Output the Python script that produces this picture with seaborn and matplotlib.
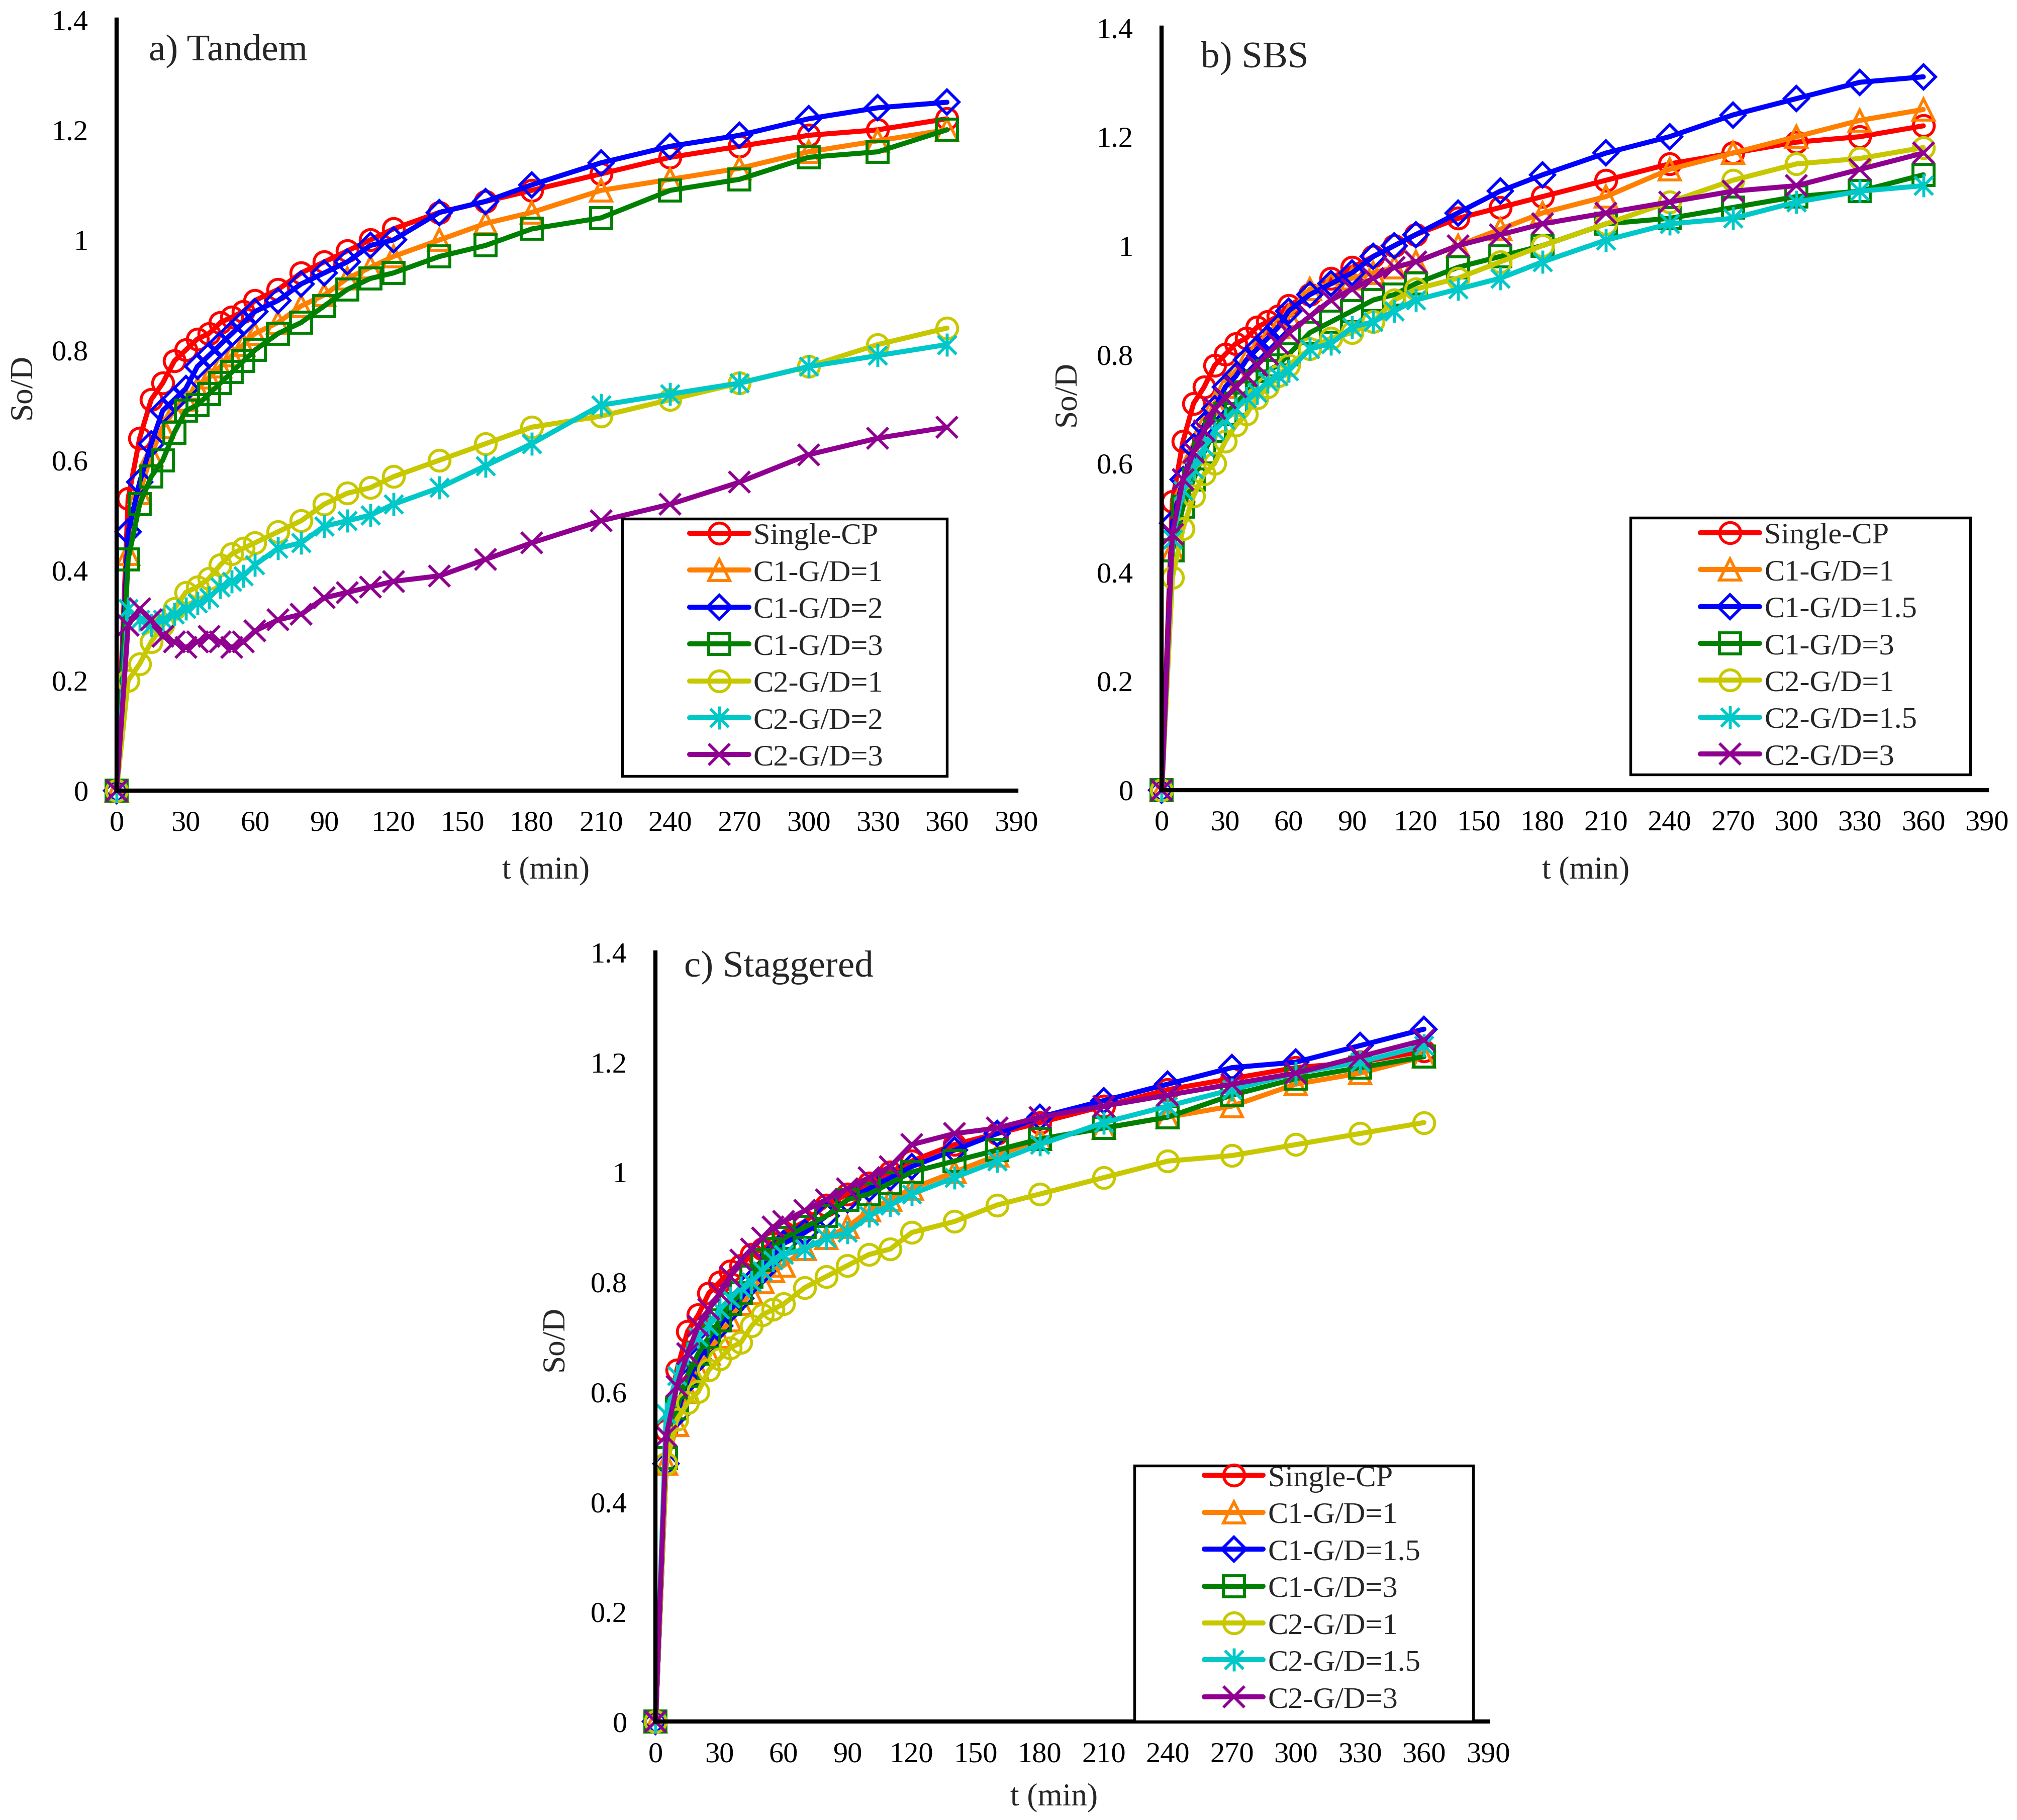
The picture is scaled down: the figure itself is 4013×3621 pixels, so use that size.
import pandas as pd
import seaborn as sns
import matplotlib.pyplot as plt
from matplotlib.path import Path
from matplotlib.patches import Rectangle

# time points (min)
t = [0, 5, 10, 15, 20, 25, 30, 35, 40, 45, 50, 55, 60, 70, 80, 90, 100,
     110, 120, 140, 160, 180, 210, 240, 270, 300, 330, 360]

single_cp = [0, 0.53, 0.64, 0.71, 0.74, 0.78, 0.80, 0.82, 0.83, 0.85, 0.86, 0.87, 0.89, 0.91,
             0.94, 0.96, 0.98, 1.00, 1.02, 1.05, 1.07, 1.09, 1.12, 1.15, 1.17, 1.19, 1.20, 1.22]

# a) Tandem
a_c1_gd1 = [0, 0.43, 0.54, 0.61, 0.66, 0.69, 0.71, 0.73, 0.75, 0.77, 0.79, 0.81, 0.83, 0.85,
            0.88, 0.90, 0.93, 0.95, 0.97, 1.00, 1.03, 1.05, 1.09, 1.11, 1.13, 1.16, 1.18, 1.20]
a_c1_gd2 = [0, 0.47, 0.56, 0.63, 0.69, 0.71, 0.73, 0.77, 0.79, 0.81, 0.83, 0.85, 0.87, 0.89,
            0.92, 0.94, 0.96, 0.99, 1.00, 1.05, 1.07, 1.10, 1.14, 1.17, 1.19, 1.22, 1.24, 1.25]
a_c1_gd3 = [0, 0.42, 0.52, 0.57, 0.60, 0.65, 0.69, 0.70, 0.72, 0.74, 0.76, 0.78, 0.80, 0.83,
            0.85, 0.88, 0.91, 0.93, 0.94, 0.97, 0.99, 1.02, 1.04, 1.09, 1.11, 1.15, 1.16, 1.20]
a_c2_gd1 = [0, 0.20, 0.23, 0.27, 0.30, 0.33, 0.36, 0.37, 0.385, 0.41, 0.43, 0.44, 0.45, 0.47,
            0.49, 0.52, 0.54, 0.55, 0.57, 0.60, 0.63, 0.66, 0.68, 0.71, 0.74, 0.77, 0.81, 0.84]
a_c2_gd2 = [0, 0.33, 0.31, 0.30, 0.31, 0.32, 0.33, 0.34, 0.35, 0.37, 0.38, 0.39, 0.41, 0.44,
            0.45, 0.48, 0.49, 0.50, 0.52, 0.55, 0.59, 0.63, 0.70, 0.72, 0.74, 0.77, 0.79, 0.81]
a_c2_gd3 = [0, 0.30, 0.33, 0.31, 0.28, 0.27, 0.26, 0.27, 0.28, 0.27, 0.26, 0.27, 0.29, 0.31,
            0.32, 0.35, 0.36, 0.37, 0.38, 0.39, 0.42, 0.45, 0.49, 0.52, 0.56, 0.61, 0.64, 0.66]

# b) SBS
b_c1_gd1 = [0, 0.44, 0.55, 0.62, 0.67, 0.71, 0.74, 0.77, 0.79, 0.81, 0.83, 0.85, 0.87, 0.92,
            0.93, 0.94, 0.95, 0.96, 0.97, 1.00, 1.03, 1.06, 1.09, 1.14, 1.17, 1.20, 1.23, 1.25]
b_c1_gd15 = [0, 0.49, 0.57, 0.63, 0.67, 0.70, 0.74, 0.76, 0.79, 0.81, 0.83, 0.85, 0.88, 0.91,
             0.93, 0.95, 0.98, 1.00, 1.02, 1.06, 1.10, 1.13, 1.17, 1.20, 1.24, 1.27, 1.30, 1.31]
b_c1_gd3 = [0, 0.44, 0.52, 0.57, 0.62, 0.66, 0.69, 0.71, 0.73, 0.75, 0.77, 0.78, 0.80, 0.84,
            0.86, 0.88, 0.90, 0.91, 0.93, 0.96, 0.98, 1.00, 1.04, 1.05, 1.07, 1.09, 1.10, 1.13]
b_c2_gd1 = [0, 0.39, 0.48, 0.54, 0.58, 0.60, 0.64, 0.67, 0.69, 0.72, 0.74, 0.76, 0.78, 0.81,
            0.83, 0.84, 0.86, 0.90, 0.92, 0.94, 0.97, 1.00, 1.04, 1.08, 1.12, 1.15, 1.16, 1.18]
b_c2_gd15 = [0, 0.46, 0.55, 0.59, 0.63, 0.66, 0.68, 0.70, 0.72, 0.73, 0.75, 0.76, 0.77, 0.81,
             0.82, 0.85, 0.86, 0.88, 0.90, 0.92, 0.94, 0.97, 1.01, 1.04, 1.05, 1.08, 1.10, 1.11]
b_c2_gd3 = [0, 0.47, 0.57, 0.62, 0.66, 0.70, 0.72, 0.74, 0.76, 0.78, 0.80, 0.82, 0.84, 0.87,
            0.90, 0.92, 0.94, 0.96, 0.97, 1.00, 1.02, 1.04, 1.06, 1.08, 1.10, 1.11, 1.14, 1.17]

# c) Staggered
c_c1_gd1 = [0, 0.47, 0.54, 0.60, 0.64, 0.67, 0.70, 0.73, 0.76, 0.78, 0.80, 0.82, 0.83, 0.86,
            0.88, 0.90, 0.93, 0.95, 0.97, 1.00, 1.03, 1.06, 1.08, 1.10, 1.12, 1.16, 1.18, 1.21]
c_c1_gd15 = [0, 0.47, 0.56, 0.62, 0.66, 0.69, 0.72, 0.75, 0.77, 0.80, 0.82, 0.85, 0.87, 0.89,
             0.92, 0.95, 0.97, 0.99, 1.01, 1.04, 1.07, 1.10, 1.13, 1.16, 1.19, 1.20, 1.23, 1.26]
c_c1_gd3 = [0, 0.48, 0.57, 0.63, 0.67, 0.70, 0.73, 0.76, 0.78, 0.81, 0.84, 0.86, 0.88, 0.90,
            0.92, 0.95, 0.96, 0.98, 1.00, 1.02, 1.04, 1.06, 1.08, 1.10, 1.14, 1.17, 1.19, 1.21]
c_c2_gd1 = [0, 0.47, 0.55, 0.58, 0.60, 0.64, 0.66, 0.68, 0.69, 0.72, 0.74, 0.75, 0.76, 0.79,
            0.81, 0.83, 0.85, 0.86, 0.89, 0.91, 0.94, 0.96, 0.99, 1.02, 1.03, 1.05, 1.07, 1.09]
c_c2_gd15 = [0, 0.56, 0.63, 0.67, 0.70, 0.72, 0.75, 0.77, 0.79, 0.80, 0.82, 0.84, 0.85, 0.86,
             0.88, 0.89, 0.92, 0.94, 0.96, 0.99, 1.02, 1.05, 1.09, 1.12, 1.15, 1.18, 1.20, 1.23]
c_c2_gd3 = [0, 0.52, 0.61, 0.67, 0.72, 0.75, 0.78, 0.81, 0.84, 0.86, 0.88, 0.90, 0.91, 0.93,
            0.95, 0.97, 0.99, 1.01, 1.05, 1.07, 1.08, 1.10, 1.12, 1.14, 1.16, 1.18, 1.21, 1.24]

labels_a = ["Single-CP", "C1-G/D=1", "C1-G/D=2", "C1-G/D=3", "C2-G/D=1", "C2-G/D=2", "C2-G/D=3"]
labels_bc = ["Single-CP", "C1-G/D=1", "C1-G/D=1.5", "C1-G/D=3", "C2-G/D=1", "C2-G/D=1.5", "C2-G/D=3"]

colors = ["#FF0000", "#FF8000", "#0000FF", "#008000", "#C8C800", "#00C8C8", "#900090"]

# excel-like asterisk marker
asterisk = Path([(0, -1), (0, 1), (-0.8, -0.8), (0.8, 0.8), (-0.8, 0.8), (0.8, -0.8)],
                [Path.MOVETO, Path.LINETO] * 3)
markers = ["o", "^", "D", "s", "o", asterisk, "x"]
msizes = [10, 10, 8, 10, 10, 11, 10]

sns.set_style("white")
plt.rcParams["font.family"] = ["Liberation Serif", "DejaVu Serif"]
plt.rcParams["font.size"] = 14

fig = plt.figure(figsize=(4013 / 300, 3621 / 300), dpi=300)


def panel(rect, series, labels, title, title_xy, box, leg_xy, ylab_xy, xlab_xy):
    ax = fig.add_axes(rect)
    for i, (y, lab) in enumerate(zip(series, labels)):
        df = pd.DataFrame({"t": t, "v": y})
        sns.lineplot(data=df, x="t", y="v", ax=ax, color=colors[i], label=lab,
                     estimator=None, sort=False, lw=2.4, marker=markers[i],
                     ms=msizes[i], mfc="none", mec=colors[i], mew=1.4, clip_on=False)
    ax.set_xlim(0, 390)
    ax.set_ylim(0, 1.4)
    ax.set_xticks(range(0, 391, 30))
    ax.set_yticks([0, 0.2, 0.4, 0.6, 0.8, 1.0, 1.2, 1.4])
    ax.set_yticklabels(["0", "0.2", "0.4", "0.6", "0.8", "1", "1.2", "1.4"])
    for s in ["top", "right"]:
        ax.spines[s].set_visible(False)
    for s in ["left", "bottom"]:
        ax.spines[s].set_linewidth(2.0)
        ax.spines[s].set_color("black")
    ax.tick_params(axis="both", direction="inout", length=9, width=1.7,
                   labelsize=14, colors="black")
    ax.tick_params(axis="y", pad=9)
    ax.tick_params(axis="x", pad=5)
    ax.set_xlabel("t (min)", fontsize=15.2)
    ax.set_ylabel("So/D", fontsize=15.2)
    ax.xaxis.set_label_coords(*xlab_xy)
    ax.yaxis.set_label_coords(*ylab_xy)
    ax.text(title_xy[0], title_xy[1], title, transform=ax.transAxes,
            fontsize=18, va="baseline", ha="left")
    # legend box
    ax.add_patch(Rectangle((box[0], box[1]), box[2] - box[0], box[3] - box[1],
                           transform=ax.transAxes, fc="white", ec="black",
                           lw=1.3, zorder=5, clip_on=False))
    leg = ax.legend(loc="center left", bbox_to_anchor=leg_xy, frameon=False,
                    fontsize=14.5, handlelength=1.95, handletextpad=0.15,
                    labelspacing=0.30, borderpad=0, borderaxespad=0, numpoints=1)
    leg.set_zorder(6)
    return ax


panel([0.0578, 0.5656, 0.446, 0.4236],
      [single_cp, a_c1_gd1, a_c1_gd2, a_c1_gd3, a_c2_gd1, a_c2_gd2, a_c2_gd3],
      labels_a, "a) Tandem", (0.036, 0.948),
      (0.562, 0.019, 0.923, 0.353), (0.637, 0.186), (-0.088, 0.524), (0.477, -0.085))

panel([0.576, 0.566, 0.409, 0.4187],
      [single_cp, b_c1_gd1, b_c1_gd15, b_c1_gd3, b_c2_gd1, b_c2_gd15, b_c2_gd3],
      labels_bc, "b) SBS", (0.047, 0.949),
      (0.568, 0.02, 0.98, 0.357), (0.653, 0.188), (-0.097, 0.52), (0.514, -0.087))

panel([0.325, 0.054, 0.4127, 0.4228],
      [single_cp, c_c1_gd1, c_c1_gd15, c_c1_gd3, c_c2_gd1, c_c2_gd15, c_c2_gd3],
      labels_bc, "c) Staggered", (0.034, 0.968),
      (0.575, 0.0, 0.982, 0.333), (0.659, 0.172), (-0.103, 0.498), (0.479, -0.08))

fig.savefig("out.png", dpi=300, facecolor="white")
